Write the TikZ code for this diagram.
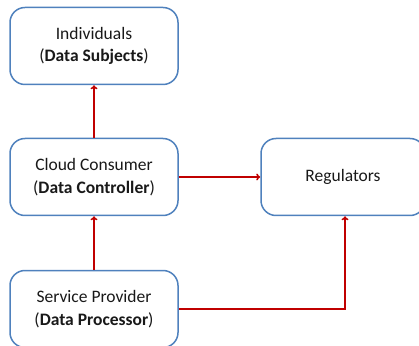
\documentclass[tikz,border=0pt]{standalone}
\usepackage{fontspec}
\setmainfont{Carlito}
\usetikzlibrary{arrows.meta}
\definecolor{boxblue}{RGB}{79,129,189}
\definecolor{arrred}{RGB}{192,0,0}
\begin{document}
\begin{tikzpicture}[x=1pt,y=1pt,
  box/.style={draw=boxblue, line width=1.5pt, rounded corners=15pt, fill=white,
    minimum width=168pt, minimum height=77pt, align=center, inner sep=0pt,
    font=\fontsize{17.5}{22.5}\selectfont, text=black!90},
  conn/.style={draw=arrred, line width=1.5pt, -{To[length=4pt,width=7pt]}}]
\useasboundingbox (0,0) rectangle (419,345);
\clip (0,0) rectangle (419,345);
\node[box] (ind) at (94,299) {Individuals\\(\textbf{Data Subjects})};
\node[box] (cc) at (94,168) {Cloud Consumer\\(\textbf{Data Controller})};
\node[box, minimum width=164pt] (reg) at (343,168) {Regulators};
\node[box] (sp) at (94,36) {Service Provider\\(\textbf{Data Processor})};
\draw[conn] (cc.north) -- (ind.south);
\draw[conn] (sp.north) -- (cc.south);
\draw[conn] (cc.east) -- (reg.west);
\draw[conn] (sp.east) -| ([xshift=2pt]reg.south);
\end{tikzpicture}
\end{document}
